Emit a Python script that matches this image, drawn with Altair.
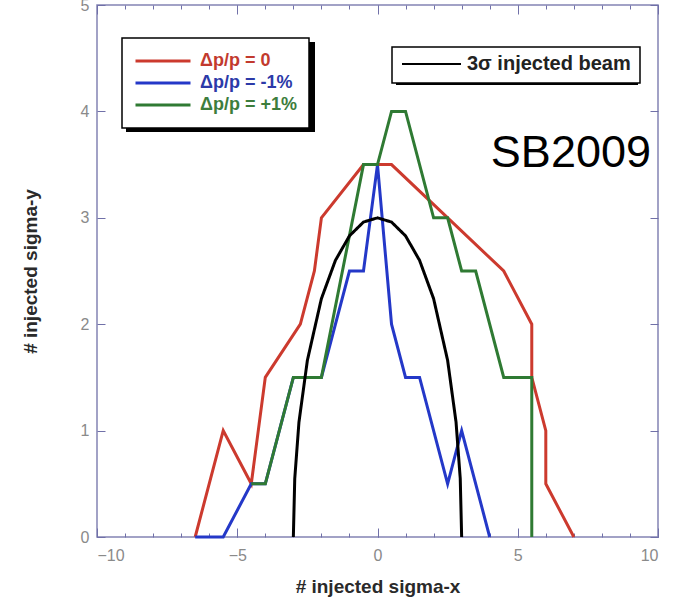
import altair as alt
import pandas as pd

# ---- data ----
series_names = ["Δp/p = 0", "Δp/p = -1%", "Δp/p = +1%"]
series_colors = ["#cc3a2e", "#2438c8", "#2f7a33"]
label_colors = ["#c23a2e", "#2c3aa8", "#3d7d3d"]

red_x = [-6.5, -5.5, -4.5, -4, -2.75, -2.25, -2, -0.5, 0.5, 4.5, 5.5, 5.5, 6, 6, 7]
red_y = [0, 1, 0.5, 1.5, 2, 2.5, 3, 3.5, 3.5, 2.5, 2, 1.5, 1, 0.5, 0]

blue_x = [-6.5, -5.5, -4.5, -4, -3, -2, -1, -0.5, 0, 0.5, 1, 1.5, 2.5, 3, 4]
blue_y = [0, 0, 0.5, 0.5, 1.5, 1.5, 2.5, 2.5, 3.5, 2, 1.5, 1.5, 0.5, 1, 0]

green_x = [-4.5, -4, -3, -2, -0.5, 0, 0.5, 1, 2, 2.5, 3, 3.5, 4.5, 5.5, 5.5]
green_y = [0.5, 0.5, 1.5, 1.5, 3.5, 3.5, 4, 4, 3, 3, 2.5, 2.5, 1.5, 1.5, 0]

beam_name = "3σ injected beam"
beam_x = [-3, -2.95, -2.8, -2.5, -2, -1.5, -1, -0.5, 0, 0.5, 1, 1.5, 2, 2.5, 2.8, 2.95, 3]
beam_y = [0, 0.55, 1.08, 1.66, 2.24, 2.6, 2.83, 2.96, 3, 2.96, 2.83, 2.6, 2.24, 1.66, 1.08, 0.55, 0]

x_major_ticks = [-10, -5, 0, 5, 10]
x_minor_ticks = list(range(-10, 11))
y_ticks = [0, 1, 2, 3, 4, 5]

annot_text = ["SB2009"]
annot_x = [9.75]
annot_y = [3.48]

# ---- build tables ----
def make_df(name, xs, ys):
    return pd.DataFrame({"series": name, "sx": xs, "sy": ys, "i": range(len(xs))})

df_red = make_df(series_names[0], red_x, red_y)
df_blue = make_df(series_names[1], blue_x, blue_y)
df_green = make_df(series_names[2], green_x, green_y)
df_beam = pd.DataFrame({"beam": beam_name, "sx": beam_x, "sy": beam_y, "i": range(len(beam_x))})
df_annot = pd.DataFrame({"label": annot_text, "sx": annot_x, "sy": annot_y})

FRAME = "#8484b4"
FONT = "Liberation Sans"
xscale = alt.Scale(domain=[-10, 10], nice=False, zero=False)
yscale = alt.Scale(domain=[0, 5], nice=False, zero=False)

def tick_axis(orient, values, size):
    return alt.Axis(orient=orient, values=values, labels=False, domain=False, grid=False,
                    title=None, ticks=True, tickSize={"expr": str(-size)},
                    tickColor="#7070a8", tickWidth=1)

label_expr = " : ".join(
    [f"datum.label == '{n}' ? '{c}'" for n, c in zip(series_names[:-1], label_colors[:-1])]
) + f" : '{label_colors[-1]}'"

color_enc = alt.Color(
    "series:N",
    scale=alt.Scale(domain=series_names, range=series_colors),
    legend=alt.Legend(
        title=None, orient="none", legendX=25, legendY=33,
        symbolType="stroke", symbolSize=3025, symbolStrokeWidth=3,
        labelFont=FONT, labelFontSize=18, labelFontWeight="bold",
        labelColor={"expr": label_expr}, labelOffset=8, labelLimit=0,
        padding=12, strokeColor="black", fillColor="white",
        clipHeight=22, rowPadding=0,
    ),
)

# main line layers
red = alt.Chart(df_red).mark_line(strokeWidth=3).encode(
    x=alt.X("sx:Q", scale=xscale,
            axis=alt.Axis(orient="bottom", values=x_major_ticks, ticks=False, domain=False,
                          grid=False, title="# injected sigma-x", labelPadding=10,
                          labelFontSize=16, labelColor="#8a8a8a", labelFont=FONT,
                          titleFont=FONT, titleFontSize=19, titleFontWeight="bold",
                          titleColor="#2a2a2a", titlePadding=14)),
    y=alt.Y("sy:Q", scale=yscale,
            axis=alt.Axis(orient="left", values=y_ticks, ticks=False, domain=False,
                          grid=False, title="# injected sigma-y", labelPadding=8,
                          labelFontSize=16, labelColor="#8a8a8a", labelFont=FONT,
                          titleFont=FONT, titleFontSize=19, titleFontWeight="bold",
                          titleColor="#2a2a2a", titlePadding=40)),
    color=color_enc,
    order="i:Q",
)

blue = alt.Chart(df_blue).mark_line(strokeWidth=3).encode(
    x=alt.X("sx:Q", scale=xscale, axis=tick_axis("bottom", x_major_ticks, 9)),
    y=alt.Y("sy:Q", scale=yscale, axis=tick_axis("left", y_ticks, 8)),
    color=color_enc,
    order="i:Q",
)

green = alt.Chart(df_green).mark_line(strokeWidth=3).encode(
    x=alt.X("sx:Q", scale=xscale, axis=tick_axis("bottom", x_minor_ticks, 4)),
    y=alt.Y("sy:Q", scale=yscale, axis=tick_axis("right", y_ticks, 8)),
    color=color_enc,
    order="i:Q",
)

beam = alt.Chart(df_beam).mark_line(strokeWidth=3, color="black").encode(
    x=alt.X("sx:Q", scale=xscale, axis=tick_axis("top", x_major_ticks, 9)),
    y=alt.Y("sy:Q", scale=yscale, axis=None),
    strokeDash=alt.StrokeDash(
        "beam:N",
        scale=alt.Scale(domain=[beam_name], range=[[1, 0]]),
        legend=alt.Legend(
            title=None, orient="none", legendX=295, legendY=42,
            symbolType="stroke", symbolSize=3481, symbolStrokeWidth=2,
            symbolStrokeColor="black",
            labelFont=FONT, labelFontSize=20, labelFontWeight="bold",
            labelColor="#222222", labelOffset=5, labelLimit=0,
            padding=9, strokeColor="black", fillColor="white",
            clipHeight=16, rowPadding=0,
        ),
    ),
    order="i:Q",
)

annot = alt.Chart(df_annot).mark_text(
    align="right", baseline="alphabetic", font=FONT, fontSize=45, color="black"
).encode(
    x=alt.X("sx:Q", scale=xscale, axis=tick_axis("top", x_minor_ticks, 4)),
    y=alt.Y("sy:Q", scale=yscale, axis=None),
    text="label:N",
)

# legend drop shadows (decoration)
shadow_df = pd.DataFrame({"k": [0]})
shadow1 = alt.Chart(shadow_df).mark_rect(color="black").encode(
    x=alt.value(29), x2=alt.value(218), y=alt.value(37), y2=alt.value(127)
)
shadow2 = alt.Chart(shadow_df).mark_rect(color="black").encode(
    x=alt.value(299), x2=alt.value(541), y=alt.value(46), y2=alt.value(80)
)

chart = alt.layer(shadow1, shadow2, red, blue, green, beam, annot).resolve_scale(
    x="shared", y="shared"
).resolve_axis(
    x="independent", y="independent"
).properties(
    width=561, height=532,
    autosize=alt.AutoSizeParams(type="none"),
    padding={"left": 97, "top": 5, "right": 26, "bottom": 76},
).configure_view(
    stroke=FRAME, strokeWidth=1.5
).configure_legend(
    strokeWidth=1.5
)

chart.save("out.html", embed_options={"renderer": "svg", "actions": False})
